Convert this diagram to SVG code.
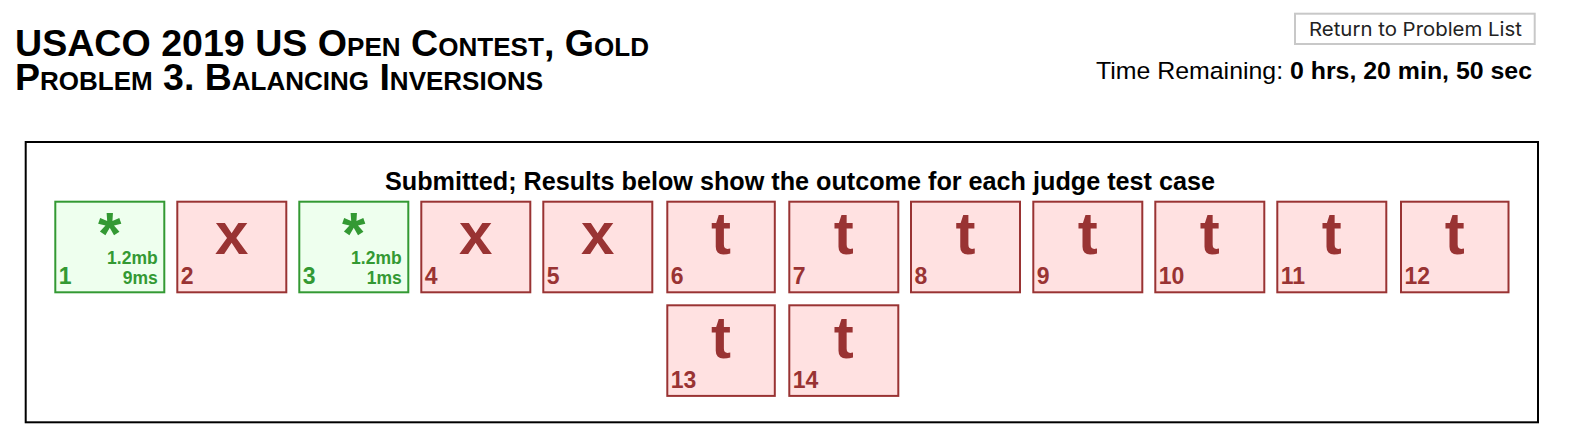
<svg xmlns="http://www.w3.org/2000/svg" width="1572" height="438" viewBox="0 0 1572 438">
<style>
  .title { font-family: "Liberation Sans", Arial, sans-serif; font-weight: bold; font-size: 37.5px; font-variant: small-caps; fill: #000; }
  .btn { fill: #fff; stroke: #c8c8c8; stroke-width: 2; }
  .btntxt { font-family: Inter, "Noto Sans", sans-serif; font-size: 19px; fill: #222; }
  .time { font-family: "Liberation Sans", Arial, sans-serif; font-size: 24.5px; fill: #000; }
  .b { font-weight: bold; }
  .frame { fill: #fff; stroke: #000; stroke-width: 2; }
  .head { font-family: "Liberation Sans", Arial, sans-serif; font-weight: bold; font-size: 25px; fill: #000; }
  .ok rect { fill: #eeffee; stroke: #339933; stroke-width: 2; }
  .ok text { fill: #339933; }
  .bad rect { fill: #ffe1e1; stroke: #993333; stroke-width: 2; }
  .bad text { fill: #993333; }
  .sym { font-family: "Liberation Sans", Arial, sans-serif; font-weight: bold; font-size: 60px; text-anchor: middle; }
  .num { font-family: "Liberation Sans", Arial, sans-serif; font-weight: bold; font-size: 23px; }
  .info { font-family: "Liberation Sans", Arial, sans-serif; font-weight: bold; font-size: 17.5px; text-anchor: end; }
</style>
<rect width="1572" height="438" fill="#fff"/>
<g id="title">
  <text class="title" x="15" y="56" textLength="634" lengthAdjust="spacingAndGlyphs">USACO 2019 US Open Contest, Gold</text>
  <text class="title" x="15" y="90" textLength="528" lengthAdjust="spacingAndGlyphs">Problem 3. Balancing Inversions</text>
</g>
<g id="return-button">
  <rect class="btn" x="1295" y="13.7" width="239.7" height="30.3"/>
  <text class="btntxt" x="1309" y="35.5" textLength="213" lengthAdjust="spacingAndGlyphs">Return to Problem List</text>
</g>
<g id="time-remaining">
  <text class="time" x="1096" y="78.5" textLength="436" lengthAdjust="spacingAndGlyphs">Time Remaining: <tspan class="b">0 hrs, 20 min, 50 sec</tspan></text>
</g>
<g id="results-frame">
  <rect class="frame" x="25.7" y="142" width="1512.3" height="280.3"/>
  <text class="head" x="385" y="190" textLength="830" lengthAdjust="spacingAndGlyphs">Submitted; Results below show the outcome for each judge test case</text>
</g>
<g id="connectors"></g>
<g id="case1" class="ok">
  <rect x="55.3" y="201.7" width="109" height="90.6"/>
  <text class="sym" x="109.8" y="254">*</text>
  <text class="info" x="157.7" y="264">1.2mb</text>
  <text class="info" x="157.7" y="284">9ms</text>
  <text class="num" x="58.8" y="284">1</text>
</g>
<g id="case2" class="bad">
  <rect x="177.3" y="201.7" width="109" height="90.6"/>
  <text class="sym" x="231.8" y="254">x</text>
  <text class="num" x="180.8" y="284">2</text>
</g>
<g id="case3" class="ok">
  <rect x="299.3" y="201.7" width="109" height="90.6"/>
  <text class="sym" x="353.8" y="254">*</text>
  <text class="info" x="401.7" y="264">1.2mb</text>
  <text class="info" x="401.7" y="284">1ms</text>
  <text class="num" x="302.8" y="284">3</text>
</g>
<g id="case4" class="bad">
  <rect x="421.3" y="201.7" width="109" height="90.6"/>
  <text class="sym" x="475.8" y="254">x</text>
  <text class="num" x="424.8" y="284">4</text>
</g>
<g id="case5" class="bad">
  <rect x="543.3" y="201.7" width="109" height="90.6"/>
  <text class="sym" x="597.8" y="254">x</text>
  <text class="num" x="546.8" y="284">5</text>
</g>
<g id="case6" class="bad">
  <rect x="667.3" y="201.7" width="107.5" height="90.6"/>
  <text class="sym" x="721" y="254">t</text>
  <text class="num" x="670.8" y="284">6</text>
</g>
<g id="case7" class="bad">
  <rect x="789.3" y="201.7" width="109" height="90.6"/>
  <text class="sym" x="843.8" y="254">t</text>
  <text class="num" x="792.8" y="284">7</text>
</g>
<g id="case8" class="bad">
  <rect x="911" y="201.7" width="109" height="90.6"/>
  <text class="sym" x="965.5" y="254">t</text>
  <text class="num" x="914.5" y="284">8</text>
</g>
<g id="case9" class="bad">
  <rect x="1033.3" y="201.7" width="109" height="90.6"/>
  <text class="sym" x="1087.8" y="254">t</text>
  <text class="num" x="1036.8" y="284">9</text>
</g>
<g id="case10" class="bad">
  <rect x="1155.3" y="201.7" width="109" height="90.6"/>
  <text class="sym" x="1209.8" y="254">t</text>
  <text class="num" x="1158.8" y="284">10</text>
</g>
<g id="case11" class="bad">
  <rect x="1277.3" y="201.7" width="109" height="90.6"/>
  <text class="sym" x="1331.8" y="254">t</text>
  <text class="num" x="1280.8" y="284">11</text>
</g>
<g id="case12" class="bad">
  <rect x="1401" y="201.7" width="107.5" height="90.6"/>
  <text class="sym" x="1454.7" y="254">t</text>
  <text class="num" x="1404.5" y="284">12</text>
</g>
<g id="case13" class="bad">
  <rect x="667.3" y="305.3" width="107.5" height="90.6"/>
  <text class="sym" x="721" y="357.6">t</text>
  <text class="num" x="670.8" y="387.6">13</text>
</g>
<g id="case14" class="bad">
  <rect x="789.3" y="305.3" width="109" height="90.6"/>
  <text class="sym" x="843.8" y="357.6">t</text>
  <text class="num" x="792.8" y="387.6">14</text>
</g>
</svg>
